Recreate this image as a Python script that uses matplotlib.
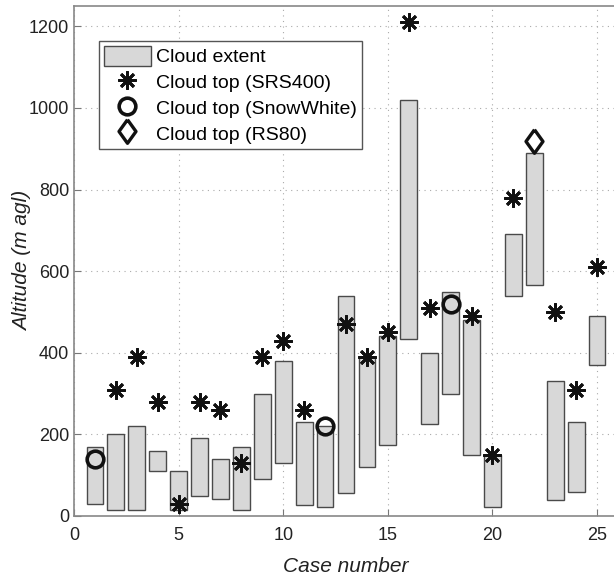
import numpy as np
import matplotlib
matplotlib.use('Agg')
from matplotlib import pyplot as plt
from matplotlib.patches import Patch
from matplotlib.lines import Line2D

# cloud extent per case (base, top) in m agl
cases = list(range(1, 26))
cloud_base = [30, 15, 15, 110, 15, 50, 42, 15, 90, 130, 28, 23, 57, 120, 175,
              435, 225, 300, 150, 22, 540, 565, 38, 60, 370]
cloud_top = [170, 200, 220, 160, 110, 190, 140, 170, 300, 380, 230, 220, 540, 390, 440,
             1020, 400, 550, 480, 150, 690, 890, 330, 230, 490]

# cloud top from instruments
srs_cases = [2, 3, 4, 5, 6, 7, 8, 9, 10, 11, 13, 14, 15, 16, 17, 19, 20, 21, 23, 24, 25]
srs_top = [310, 390, 280, 30, 280, 260, 130, 390, 430, 260, 470, 390, 450, 1210, 510,
           490, 150, 780, 500, 310, 610]
snow_cases = [1, 12, 18]
snow_top = [140, 220, 520]
rs80_cases = [22]
rs80_top = [920]

plt.rcParams['font.family'] = ['Liberation Sans', 'DejaVu Sans']

# matlab style diamond, a bit taller than wide
diamond = [(0, 1), (0.72, 0), (0, -1), (-0.72, 0), (0, 1)]
star = dict(linestyle='none', marker=(8, 2, 0), markersize=13, markeredgewidth=2.0, color='#111111')
circ = dict(linestyle='none', marker='o', markersize=12, markeredgewidth=2.6,
            markerfacecolor='none', markeredgecolor='#111111')
diam = dict(linestyle='none', marker=diamond, markersize=17, markeredgewidth=2.4,
            markerfacecolor='none', markeredgecolor='#111111')

fig = plt.figure(figsize=(6.14, 5.82), dpi=100)
ax = fig.add_axes([74/614, 1-516/582, 544/614, 510/582])

ax.bar(cases, np.array(cloud_top) - np.array(cloud_base), bottom=cloud_base, width=0.8,
       color='#d8d8d8', edgecolor='#4a4a4a', linewidth=1.0, zorder=2)
ax.plot(srs_cases, srs_top, zorder=3, **star)
ax.plot(snow_cases, snow_top, zorder=3, **circ)
ax.plot(rs80_cases, rs80_top, zorder=3, **diam)

ax.set_xlim(0, 26)
ax.set_ylim(0, 1250)
ax.set_xticks([0, 5, 10, 15, 20, 25])
ax.set_yticks([0, 200, 400, 600, 800, 1000, 1200])
ax.grid(True, linestyle=(0, (1, 4)), color='#aaaaaa', linewidth=0.8, zorder=0)
ax.set_axisbelow(True)
ax.tick_params(direction='in', length=5, labelsize=13, color='#777777', labelcolor='#222222')
ax.tick_params(axis='x', pad=8)
for s in ax.spines.values():
    s.set_color('#888888')
    s.set_linewidth(1.2)

ax.set_xlabel('Case number', fontsize=15, style='italic', color='#222222', labelpad=9)
ax.set_ylabel('Altitude (m agl)', fontsize=15, style='italic', color='#222222', labelpad=-2)

handles = [
    Patch(facecolor='#d8d8d8', edgecolor='#4a4a4a', linewidth=1.0),
    Line2D([], [], **star),
    Line2D([], [], **circ),
    Line2D([], [], **diam),
]
labels = ['Cloud extent', 'Cloud top (SRS400)', 'Cloud top (SnowWhite)', 'Cloud top (RS80)']
leg = ax.legend(handles, labels, loc='upper left', bbox_to_anchor=(25/544, 1-35/510),
                fontsize=14, frameon=True, fancybox=False, framealpha=1, edgecolor='#555555',
                handlelength=2.4, handleheight=1.2, labelspacing=0.27, borderpad=0.25,
                handletextpad=0.3, borderaxespad=0)
leg.get_frame().set_linewidth(1.0)

fig.savefig('out.png', dpi=100)
